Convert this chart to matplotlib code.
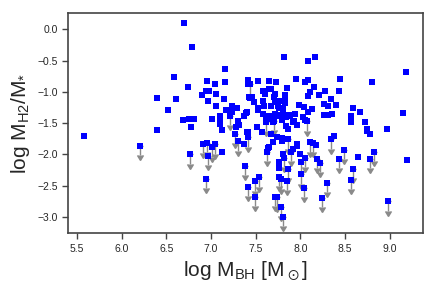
import matplotlib
matplotlib.use('Agg')
import matplotlib.pyplot as plt
import seaborn as sns

# detections: log M_BH, log MH2/M*
det_x = [5.58, 6.40, 6.40, 6.52, 6.58, 6.61, 6.69, 6.70, 6.74, 6.75, 6.79, 6.81, 6.78,
         6.95, 7.16, 7.16, 7.04, 6.94, 6.98, 6.90, 7.05, 6.97, 7.14, 7.05, 7.23, 7.29,
         7.17, 7.01, 7.10, 7.10, 7.10, 7.10, 7.12, 7.12, 7.30, 7.31, 7.28, 7.40, 7.37,
         7.41, 7.41, 7.82, 8.09, 8.16, 9.18, 8.80, 8.44, 7.95, 8.09, 8.05, 8.15, 8.11,
         8.28, 8.43, 8.21, 8.09, 8.34, 8.40, 8.26, 8.31, 8.13, 8.04, 7.98, 8.09, 8.26,
         8.31, 8.35, 8.59, 8.67, 8.56, 9.15, 7.52, 7.65, 7.73, 7.58, 7.65, 7.67, 7.85,
         7.60, 7.72, 7.70, 7.83, 7.83, 7.42, 7.46, 7.44, 7.58, 7.48, 7.71, 7.76, 7.81,
         7.83, 7.59, 7.67, 7.75, 7.52, 7.76, 7.81, 7.39, 7.52, 7.58, 7.71, 7.77, 7.83,
         7.87, 7.94, 7.62, 7.67, 7.62, 7.74, 7.79, 7.83, 7.84, 7.86, 7.93, 7.96, 8.03,
         7.41, 7.51, 7.57, 7.67, 7.74, 7.79, 7.37, 7.23, 7.40, 7.64, 7.69, 7.70, 7.73,
         7.84, 7.88, 7.92, 8.05, 7.64, 7.69, 7.79, 7.81, 7.76, 7.76, 7.92, 7.96, 7.96,
         7.99, 8.17, 8.38, 8.64, 9.19, 8.97, 8.78, 8.74, 8.75, 8.72, 8.57, 7.65]
det_y = [-1.70, -1.10, -1.61, -1.29, -0.76, -1.12, -1.45, 0.10, -0.93, -1.43, -0.29, -1.43, -1.57,
         -0.83, -0.64, -0.84, -0.88, -0.99, -0.98, -1.05, -1.04, -1.15, -1.11, -1.22, -1.23, -1.26,
         -1.29, -1.43, -1.38, -1.42, -1.46, -1.51, -1.61, -1.96, -1.46, -1.53, -1.57, -1.65, -1.84,
         -0.81, -0.87, -0.45, -0.50, -0.44, -0.68, -0.85, -0.79, -0.79, -0.81, -0.84, -0.93, -1.00,
         -0.98, -0.99, -1.05, -1.07, -1.12, -1.21, -1.20, -1.23, -1.27, -1.25, -1.21, -1.33, -1.37,
         -1.37, -1.36, -1.26, -1.32, -1.38, -1.34, -0.83, -0.82, -0.85, -0.98, -0.96, -0.96, -0.94,
         -1.04, -1.04, -1.09, -1.05, -1.09, -1.09, -1.09, -1.10, -1.15, -1.17, -1.17, -1.14, -1.14,
         -1.18, -1.23, -1.23, -1.23, -1.26, -1.26, -1.27, -1.34, -1.29, -1.35, -1.35, -1.37, -1.37,
         -1.37, -1.36, -1.38, -1.38, -1.41, -1.39, -1.45, -1.41, -1.54, -1.59, -1.46, -1.53, -1.41,
         -1.64, -1.57, -1.64, -1.67, -1.73, -1.74, -1.38, -1.32, -1.33, -1.43, -1.48, -1.40, -1.37,
         -1.40, -1.38, -1.49, -1.45, -1.90, -1.81, -1.79, -1.99, -2.13, -2.22, -1.91, -1.83, -1.86,
         -2.00, -1.85, -1.70, -2.04, -2.09, -1.59, -1.68, -1.62, -1.59, -1.48, -1.48, -1.88]

# upper limits
ul_x = [6.20, 6.76, 6.91, 6.95, 7.01, 7.04, 6.97, 6.94, 7.21, 7.27, 7.30, 7.41, 7.38, 7.41,
        7.49, 7.54, 7.49, 7.44, 7.61, 7.70, 7.63, 7.86, 7.89, 7.82, 7.86, 7.76, 7.78, 7.85,
        7.71, 7.74, 7.78, 7.81, 8.01, 8.05, 8.01, 8.04, 8.11, 8.14, 8.19, 8.22, 8.30, 8.24,
        8.34, 8.43, 8.49, 8.59, 8.56, 8.78, 8.82, 8.98, 8.07]
ul_y = [-1.86, -2.00, -1.83, -1.82, -1.89, -1.84, -2.02, -2.39, -1.38, -1.67, -1.79, -1.73, -2.18, -2.52,
        -2.43, -2.37, -2.68, -0.88, -1.48, -1.46, -1.96, -1.76, -1.96, -2.06, -2.23, -2.36, -2.40, -2.42,
        -2.68, -2.69, -2.84, -3.00, -2.12, -2.06, -2.32, -2.54, -1.81, -1.82, -2.07, -2.14, -2.46, -2.70,
        -1.76, -2.07, -1.93, -2.23, -2.41, -2.07, -1.96, -2.75, -1.47]

sns.set_style('ticks')
plt.rcParams['font.family'] = ['Liberation Sans', 'DejaVu Sans']
plt.rcParams['mathtext.default'] = 'regular'

fig = plt.figure(figsize=(4.36, 2.91), dpi=100)
ax = fig.add_axes([0.156, 0.199, 0.814, 0.756])

eb = ax.errorbar(ul_x, ul_y, yerr=0.15, uplims=True, fmt='none', ecolor='#8a8a8a',
                 elinewidth=1.0, capsize=2.2, capthick=1.0, zorder=2)
for cl in eb[1]:
    cl.set_markeredgecolor('#8a8a8a')
    cl.set_markerfacecolor('#8a8a8a')
ax.plot(ul_x, ul_y, 's', color='blue', ms=3.8, mew=0, zorder=3)
ax.plot(det_x, det_y, 's', color='blue', ms=3.8, mew=0, zorder=3)

ax.set_xlim(5.40, 9.37)
ax.set_ylim(-3.26, 0.26)
ax.set_xticks([5.5, 6.0, 6.5, 7.0, 7.5, 8.0, 8.5, 9.0])
ax.set_yticks([0.0, -0.5, -1.0, -1.5, -2.0, -2.5, -3.0])
ax.tick_params(labelsize=7.5, length=4, width=1, color='#444444')
for s in ax.spines.values():
    s.set_linewidth(1.2)
    s.set_color('#444444')

ax.set_xlabel(r'log M$_{BH}$ [M$_\odot$]', fontsize=15)
ax.set_ylabel(r'log M$_{H2}$/M$_{*}$', fontsize=15)

plt.savefig('out.png', dpi=100)
